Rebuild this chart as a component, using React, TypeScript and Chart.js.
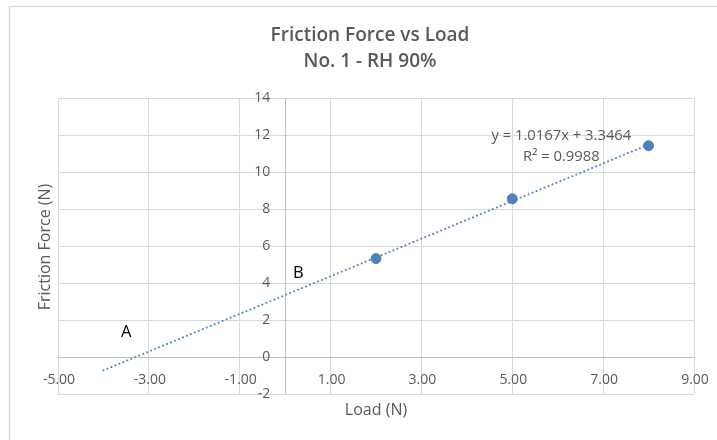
import React, { useEffect, useRef } from "react";
import { Chart, registerables } from "chart.js";

Chart.register(...registerables);

const titleLines = ["Friction Force vs Load", "No. 1 - RH 90%"];
const xAxisTitle = "Load (N)";
const yAxisTitle = "Friction Force (N)";

const loadValues = [2, 5, 8];
const frictionValues = [5.32, 8.55, 11.42];

const trendX = [-4, 8];
const trendY = [-0.72, 11.48];

const xTicks = [-5, -3, -1, 1, 3, 5, 7, 9];
const yTicks = [-2, 0, 2, 4, 6, 8, 10, 12, 14];

const equationLines = ["y = 1.0167x + 3.3464", "R² = 0.9988"];
const equationAt = { x: 6.08, y: 11.95 };

const annotationLabels = ["A", "B"];
const annotationX = [-3.5, 0.29];
const annotationY = [1.35, 4.54];

const BLUE = "#4F81BD";
const GRAY_TEXT = "#595959";
const GRID = "#D9D9D9";
const AXIS = "#BFBFBF";
const FONT = "'Open Sans', 'Noto Sans', sans-serif";

const overlay = {
  id: "overlay",
  beforeDatasetsDraw(chart: any) {
    const { ctx } = chart;
    const xs = chart.scales.x;
    const ys = chart.scales.y;
    const area = chart.chartArea;
    ctx.save();
    ctx.strokeStyle = AXIS;
    ctx.lineWidth = 1;
    const x0 = Math.round(xs.getPixelForValue(0)) + 0.5;
    const y0 = Math.round(ys.getPixelForValue(0)) + 0.5;
    ctx.beginPath();
    ctx.moveTo(x0, area.top);
    ctx.lineTo(x0, area.bottom);
    ctx.moveTo(area.left, y0);
    ctx.lineTo(area.right, y0);
    ctx.stroke();
    ctx.restore();
  },
  afterDraw(chart: any) {
    const { ctx } = chart;
    const xs = chart.scales.x;
    const ys = chart.scales.y;
    const area = chart.chartArea;
    const x0 = xs.getPixelForValue(0);
    const y0 = ys.getPixelForValue(0);
    ctx.save();

    // outer border
    ctx.strokeStyle = GRID;
    ctx.lineWidth = 1.5;
    ctx.beginPath();
    ctx.moveTo(9.5, 440);
    ctx.lineTo(9.5, 6.5);
    ctx.lineTo(720, 6.5);
    ctx.stroke();

    // title
    ctx.fillStyle = GRAY_TEXT;
    ctx.textAlign = "center";
    ctx.textBaseline = "middle";
    ctx.font = `600 19px ${FONT}`;
    ctx.fillText(titleLines[0], 370, 36);
    ctx.fillText(titleLines[1], 370, 62);

    // x tick labels
    ctx.font = `14px ${FONT}`;
    ctx.textAlign = "center";
    xTicks.forEach((v) => {
      ctx.fillText(v.toFixed(2), xs.getPixelForValue(v) + 1, y0 + 23);
    });
    // y tick labels
    ctx.textAlign = "right";
    yTicks.forEach((v) => {
      ctx.fillText(String(v), x0 - 15, ys.getPixelForValue(v));
    });

    // axis titles
    ctx.font = `16px ${FONT}`;
    ctx.textAlign = "center";
    ctx.fillText(xAxisTitle, (area.left + area.right) / 2, 410);
    ctx.save();
    ctx.translate(45, 247);
    ctx.rotate(-Math.PI / 2);
    ctx.fillText(yAxisTitle, 0, 0);
    ctx.restore();

    // equation
    ctx.font = `14.8px ${FONT}`;
    const ex = xs.getPixelForValue(equationAt.x);
    const ey = ys.getPixelForValue(equationAt.y);
    ctx.fillText(equationLines[0], ex, ey);
    ctx.fillText(equationLines[1], ex, ey + 21);

    // annotations
    ctx.fillStyle = "#000000";
    ctx.font = `16.5px ${FONT}`;
    annotationLabels.forEach((t, i) => {
      ctx.fillText(t, xs.getPixelForValue(annotationX[i]), ys.getPixelForValue(annotationY[i]));
    });
    ctx.restore();
  },
};

export default function App() {
  const ref = useRef<HTMLCanvasElement | null>(null);
  useEffect(() => {
    document.body.style.margin = "0";
    const canvas = ref.current!;
    const chart = new Chart(canvas, {
      type: "scatter",
      data: {
        datasets: [
          {
            label: "Friction",
            data: loadValues.map((x, i) => ({ x, y: frictionValues[i] })),
            backgroundColor: BLUE,
            borderColor: BLUE,
            pointRadius: 5,
            pointHoverRadius: 5,
            showLine: false,
          },
          {
            label: "Trend",
            type: "line",
            data: trendX.map((x, i) => ({ x, y: trendY[i] })),
            borderColor: BLUE,
            borderWidth: 2,
            borderDash: [0.1, 4.2],
            borderCapStyle: "round",
            pointRadius: 0,
            fill: false,
            tension: 0,
          } as any,
        ],
      },
      options: {
        responsive: false,
        animation: false,
        devicePixelRatio: 1,
        layout: { padding: { left: 58, right: 23, top: 98, bottom: 46 } },
        plugins: {
          legend: { display: false },
          title: { display: false },
          tooltip: { enabled: false },
        },
        scales: {
          x: {
            type: "linear",
            min: -5,
            max: 9,
            afterBuildTicks: (s: any) => {
              s.ticks = xTicks.map((v) => ({ value: v }));
            },
            ticks: { display: false },
            grid: { color: GRID, drawTicks: false, lineWidth: 1 },
            border: { display: false },
          },
          y: {
            type: "linear",
            min: -2,
            max: 14,
            afterBuildTicks: (s: any) => {
              s.ticks = yTicks.map((v) => ({ value: v }));
            },
            ticks: { display: false },
            grid: {
              color: (c: any) => (c.tick && c.tick.value === 0 ? "rgba(0,0,0,0)" : GRID),
              drawTicks: false,
              lineWidth: 1,
            },
            border: { display: false },
          },
        },
      },
      plugins: [overlay],
    } as any);
    return () => chart.destroy();
  }, []);
  return (
    <div style={{ position: "absolute", left: 0, top: 0, width: 717, height: 440, background: "#fff" }}>
      <canvas ref={ref} width={717} height={440} />
    </div>
  );
}
